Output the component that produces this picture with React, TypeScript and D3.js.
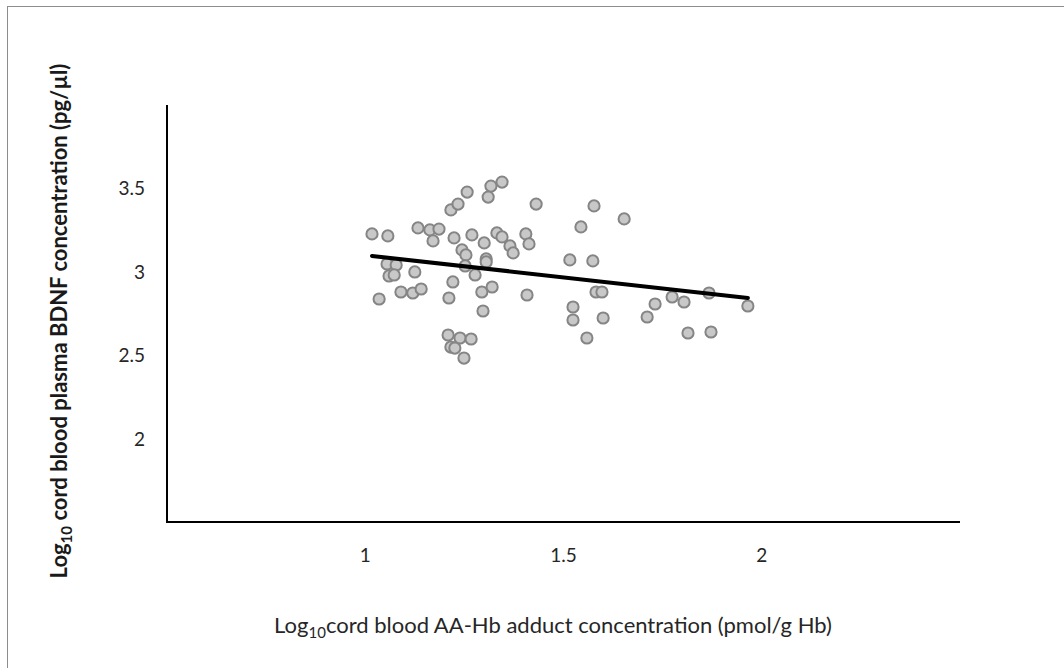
import React from 'react';
import * as d3 from 'd3';

// log10 AA-Hb adduct (x) and log10 BDNF (y)
const adductLog = [
  1.017, 1.057, 1.133, 1.163, 1.186, 1.171, 1.216, 1.234, 1.257, 1.317,
  1.345, 1.31, 1.431, 1.224, 1.269, 1.3, 1.332, 1.345, 1.365, 1.373,
  1.405, 1.413, 1.244, 1.254, 1.305, 1.305, 1.252, 1.277, 1.055, 1.078,
  1.06, 1.073, 1.125, 1.221, 1.09, 1.12, 1.141, 1.035, 1.211, 1.294,
  1.32, 1.408, 1.297, 1.209, 1.239, 1.267, 1.216, 1.226, 1.249, 1.577,
  1.653, 1.544, 1.516, 1.574, 1.582, 1.597, 1.524, 1.524, 1.6, 1.559,
  1.731, 1.711, 1.774, 1.804, 1.867, 1.965, 1.814, 1.872,
];
const bdnfLog = [
  3.227, 3.215, 3.263, 3.251, 3.256, 3.185, 3.371, 3.406, 3.478, 3.514,
  3.538, 3.448, 3.406, 3.203, 3.221, 3.173, 3.233, 3.209, 3.155, 3.113,
  3.227, 3.167, 3.131, 3.101, 3.077, 3.059, 3.035, 2.981, 3.047, 3.041,
  2.975, 2.981, 2.999, 2.939, 2.879, 2.873, 2.897, 2.837, 2.843, 2.879,
  2.909, 2.861, 2.765, 2.621, 2.603, 2.597, 2.549, 2.543, 2.483, 3.395,
  3.317, 3.269, 3.071, 3.065, 2.879, 2.879, 2.789, 2.711, 2.723, 2.603,
  2.807, 2.729, 2.849, 2.819, 2.873, 2.795, 2.633, 2.639,
];

// linear trend line end points
const trendX = [1.017, 1.965];
const trendY = [3.095, 2.843];

const xTicks = [1, 1.5, 2];
const yTicks = [2, 2.5, 3, 3.5];

const FONT = 'Lato, "Open Sans", sans-serif';

export default function App() {
  const width = 1064;
  const height = 668;

  const x = d3.scaleLinear().domain([0.5, 2.5]).range([167, 960]);
  const y = d3.scaleLinear().domain([1.5, 4]).range([522, 105]);

  const trend = d3.line<number>()
    .x((d, i) => x(trendX[i]))
    .y(d => y(d));

  const points = adductLog.map((v, i) => ({ x: v, y: bdnfLog[i] }));

  return (
    <svg width={width} height={height}
      style={{ position: 'absolute', left: 0, top: 0, background: '#fff' }}>
      {/* frame, only top and left edges are visible */}
      <rect x={7.5} y={6.5} width={1100} height={700} fill="none" stroke="#8c8c8c" strokeWidth={1} />

      {/* axes */}
      <line x1={x(0.5)} x2={x(0.5)} y1={y(1.5) + 1} y2={y(4)} stroke="#000" strokeWidth={2} />
      <line x1={x(0.5) - 1} x2={x(2.5)} y1={y(1.5)} y2={y(1.5)} stroke="#000" strokeWidth={2} />

      {xTicks.map(t => (
        <text key={'x' + t} x={x(t)} y={562} textAnchor="middle"
          fontFamily={FONT} fontSize={19} fill="#262626">{t}</text>
      ))}
      {yTicks.map(t => (
        <text key={'y' + t} x={145} y={y(t) + 7} textAnchor="end"
          fontFamily={FONT} fontSize={19} fill="#262626">{t}</text>
      ))}

      {/* scatter */}
      <g>
        {points.map((p, i) => (
          <circle key={i} cx={x(p.x)} cy={y(p.y)} r={5.6}
            fill="#c8c8c8" stroke="#858585" strokeWidth={2} />
        ))}
      </g>

      <path d={trend(trendY) || ''} fill="none" stroke="#000" strokeWidth={4} strokeLinecap="round" />

      {/* axis titles */}
      <text x={553} y={633} textAnchor="middle" fontFamily={FONT} fontSize={22} fill="#262626">
        Log<tspan fontSize={15} dy={5}>10</tspan><tspan dy={-5}>cord blood AA-Hb adduct concentration (pmol/g Hb)</tspan>
      </text>
      <text transform="translate(67,321) rotate(-90)" textAnchor="middle"
        fontFamily={FONT} fontSize={22} fontWeight="bold" fill="#1a1a1a">
        Log<tspan fontSize={15} dy={5}>10</tspan><tspan dy={-5}> cord blood plasma BDNF concentration (pg/µl)</tspan>
      </text>
    </svg>
  );
}
